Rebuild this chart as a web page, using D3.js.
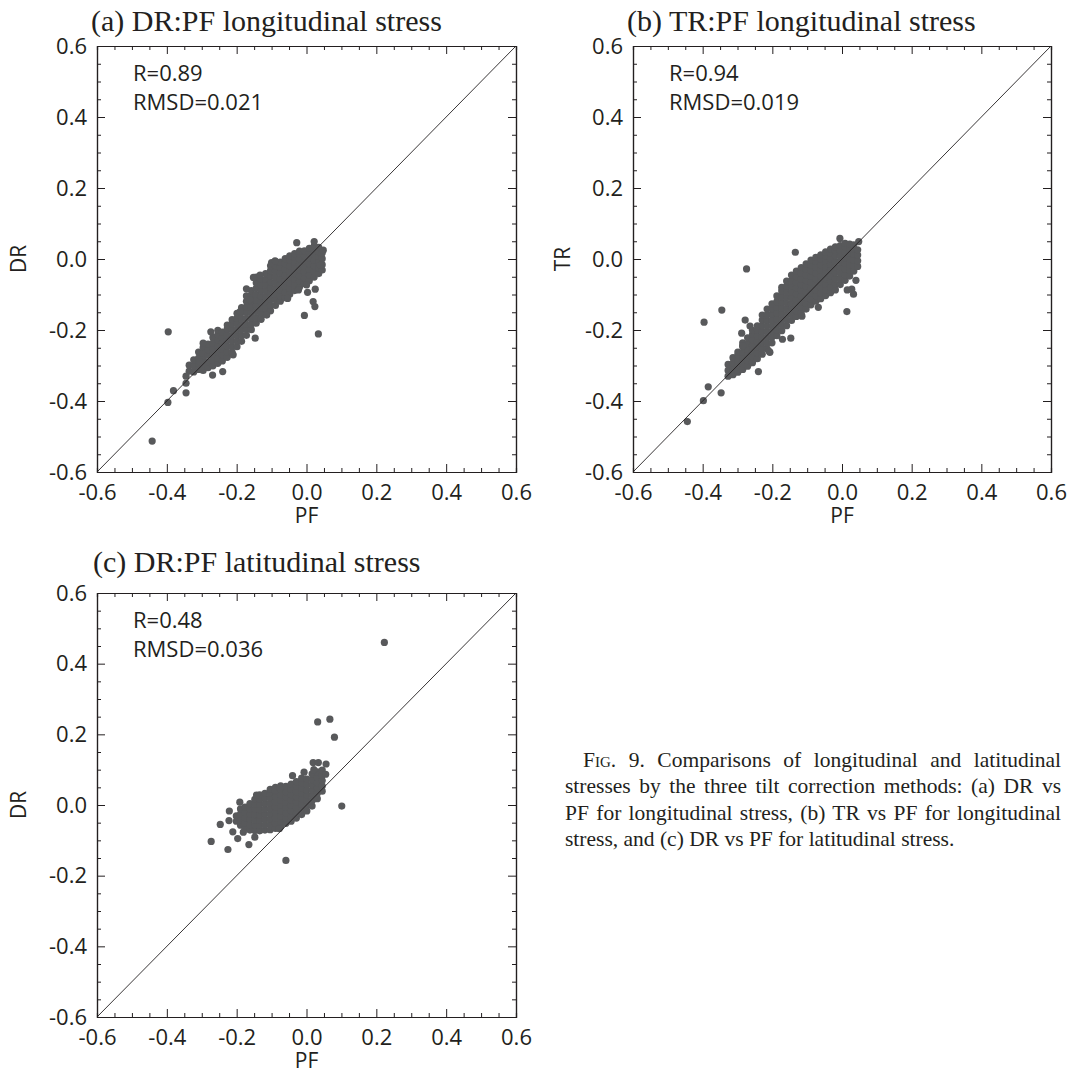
<!DOCTYPE html>
<html>
<head>
<meta charset="utf-8">
<script src="https://cdn.jsdelivr.net/npm/d3@7/dist/d3.min.js"></script>
<style>
  body { margin: 0; background: #fff; }
</style>
</head>
<body>
<script>
// ---- data ----
var majorTicks = [-0.6, -0.4, -0.2, 0.0, 0.2, 0.4, 0.6]
var minorTicks = [-0.55, -0.5, -0.45, -0.35, -0.3, -0.25, -0.15, -0.1, -0.05,
  0.05, 0.1, 0.15, 0.25, 0.3, 0.35, 0.45, 0.5, 0.55]

// dense cloud, given as [PF, [values...]] columns
var colsA = [
  [-0.336, [-0.316, -0.299]],
  [-0.323, [-0.318, -0.301, -0.284]],
  [-0.309, [-0.311, -0.293, -0.279, -0.262]],
  [-0.296, [-0.314, -0.297, -0.281, -0.266, -0.249]],
  [-0.282, [-0.306, -0.290, -0.271, -0.255, -0.240]],
  [-0.268, [-0.301, -0.285, -0.268, -0.253, -0.237, -0.221]],
  [-0.254, [-0.294, -0.279, -0.261, -0.246, -0.229, -0.213, -0.201]],
  [-0.241, [-0.287, -0.270, -0.254, -0.237, -0.221, -0.206]],
  [-0.227, [-0.277, -0.262, -0.245, -0.229, -0.214, -0.197, -0.186]],
  [-0.213, [-0.263, -0.248, -0.231, -0.216, -0.199, -0.183, -0.171]],
  [-0.199, [-0.247, -0.231, -0.215, -0.200, -0.183, -0.167, -0.153]],
  [-0.186, [-0.232, -0.216, -0.199, -0.184, -0.168, -0.151, -0.137]],
  [-0.172, [-0.215, -0.199, -0.184, -0.167, -0.151, -0.135, -0.119, -0.104]],
  [-0.158, [-0.199, -0.183, -0.167, -0.152, -0.135, -0.119, -0.103, -0.089]],
  [-0.144, [-0.181, -0.165, -0.148, -0.132, -0.116, -0.100, -0.083, -0.067, -0.051]],
  [-0.130, [-0.170, -0.153, -0.137, -0.121, -0.105, -0.089, -0.073, -0.057]],
  [-0.117, [-0.155, -0.138, -0.122, -0.106, -0.090, -0.073, -0.057, -0.041]],
  [-0.103, [-0.146, -0.130, -0.113, -0.097, -0.081, -0.065, -0.049, -0.033, -0.019]],
  [-0.089, [-0.131, -0.115, -0.099, -0.083, -0.067, -0.051, -0.035, -0.020, -0.007]],
  [-0.075, [-0.119, -0.103, -0.087, -0.071, -0.055, -0.039, -0.023, -0.009]],
  [-0.061, [-0.109, -0.093, -0.077, -0.061, -0.045, -0.029, -0.013, 0.001]],
  [-0.048, [-0.099, -0.083, -0.067, -0.051, -0.035, -0.019, -0.003, 0.009]],
  [-0.034, [-0.089, -0.073, -0.057, -0.041, -0.025, -0.009, 0.005, 0.015]],
  [-0.020, [-0.079, -0.063, -0.047, -0.031, -0.015, 0.001, 0.015, 0.022]],
  [-0.006, [-0.069, -0.053, -0.037, -0.021, -0.005, 0.009, 0.023]],
  [0.008, [-0.061, -0.045, -0.029, -0.013, 0.003, 0.017, 0.030]],
  [0.022, [-0.051, -0.035, -0.019, -0.003, 0.013, 0.027, 0.036]],
  [0.035, [-0.041, -0.025, -0.009, 0.007, 0.021, 0.033]],
  [0.045, [-0.031, -0.016, 0.001, 0.017]]
]
var outA = [
  [-0.442, -0.513], [-0.397, -0.404], [-0.381, -0.371], [-0.396, -0.205],
  [-0.345, -0.377], [-0.345, -0.350], [-0.345, -0.330], [-0.269, -0.327],
  [-0.240, -0.317], [-0.274, -0.205], [-0.296, -0.237], [-0.305, -0.289],
  [-0.210, -0.270], [-0.147, -0.223], [-0.190, -0.148], [-0.162, -0.115],
  [-0.114, -0.158], [-0.172, -0.084], [-0.152, -0.052], [-0.133, -0.045],
  [-0.100, -0.010], [-0.090, -0.005], [-0.054, -0.111], [-0.023, -0.087],
  [0.003, -0.094], [0.000, -0.073], [-0.006, -0.159], [0.034, -0.211],
  [0.019, -0.120], [0.024, -0.134], [0.025, -0.085], [-0.028, 0.046],
  [0.022, 0.049], [0.048, 0.025], [0.039, -0.017]
]

var colsB = [
  [-0.327, [-0.330, -0.314, -0.297]],
  [-0.313, [-0.326, -0.310, -0.293, -0.278]],
  [-0.299, [-0.319, -0.303, -0.287, -0.271, -0.262]],
  [-0.285, [-0.311, -0.295, -0.279, -0.263, -0.247, -0.236]],
  [-0.271, [-0.302, -0.286, -0.270, -0.254, -0.238, -0.222]],
  [-0.257, [-0.292, -0.276, -0.260, -0.244, -0.228, -0.212, -0.201]],
  [-0.243, [-0.281, -0.265, -0.249, -0.233, -0.217, -0.201, -0.188]],
  [-0.229, [-0.268, -0.252, -0.236, -0.220, -0.204, -0.188, -0.172, -0.158]],
  [-0.215, [-0.253, -0.237, -0.221, -0.205, -0.189, -0.173, -0.157, -0.141]],
  [-0.201, [-0.236, -0.220, -0.204, -0.188, -0.172, -0.156, -0.140, -0.126]],
  [-0.187, [-0.216, -0.200, -0.184, -0.168, -0.152, -0.136, -0.120, -0.104]],
  [-0.173, [-0.202, -0.186, -0.170, -0.154, -0.138, -0.122, -0.106, -0.090, -0.080]],
  [-0.159, [-0.188, -0.172, -0.156, -0.140, -0.124, -0.108, -0.092, -0.076, -0.062]],
  [-0.145, [-0.173, -0.157, -0.141, -0.125, -0.109, -0.093, -0.077, -0.061, -0.045]],
  [-0.131, [-0.162, -0.146, -0.130, -0.114, -0.098, -0.082, -0.066, -0.050, -0.034]],
  [-0.117, [-0.152, -0.136, -0.120, -0.104, -0.088, -0.072, -0.056, -0.040, -0.024]],
  [-0.103, [-0.141, -0.125, -0.109, -0.093, -0.077, -0.061, -0.045, -0.029, -0.014]],
  [-0.089, [-0.129, -0.113, -0.097, -0.081, -0.065, -0.049, -0.033, -0.017, -0.003]],
  [-0.075, [-0.119, -0.103, -0.087, -0.071, -0.055, -0.039, -0.023, -0.007, 0.005]],
  [-0.061, [-0.112, -0.096, -0.080, -0.064, -0.048, -0.032, -0.016, 0.000, 0.012]],
  [-0.047, [-0.103, -0.087, -0.071, -0.055, -0.039, -0.023, -0.007, 0.009, 0.020]],
  [-0.033, [-0.095, -0.079, -0.063, -0.047, -0.031, -0.015, 0.001, 0.017, 0.028]],
  [-0.019, [-0.087, -0.071, -0.055, -0.039, -0.023, -0.007, 0.009, 0.024, 0.034]],
  [-0.005, [-0.072, -0.056, -0.040, -0.024, -0.008, 0.008, 0.024, 0.038]],
  [0.009, [-0.060, -0.044, -0.028, -0.012, 0.004, 0.020, 0.034, 0.044]],
  [0.022, [-0.048, -0.032, -0.016, 0.000, 0.016, 0.030, 0.042]],
  [0.034, [-0.034, -0.018, -0.002, 0.014, 0.028, 0.040]],
  [0.045, [-0.021, -0.005, 0.011, 0.026]]
]
var outB = [
  [-0.444, -0.458], [-0.398, -0.399], [-0.384, -0.360], [-0.347, -0.377],
  [-0.396, -0.178], [-0.345, -0.144], [-0.274, -0.028], [-0.134, 0.019],
  [-0.006, 0.058], [0.048, 0.049], [0.014, -0.148], [0.033, -0.099],
  [0.015, -0.087], [-0.068, -0.136], [-0.115, -0.161], [-0.147, -0.223],
  [-0.171, -0.226], [-0.207, -0.263], [-0.240, -0.317], [-0.278, -0.172],
  [-0.264, -0.189], [-0.288, -0.209], [-0.285, -0.244], [-0.209, -0.260],
  [0.028, -0.085], [0.040, -0.060]
]

var colsC = [
  [-0.201, [-0.046, -0.031]],
  [-0.189, [-0.057, -0.042, -0.026, -0.011]],
  [-0.176, [-0.066, -0.051, -0.036, -0.021, -0.006]],
  [-0.162, [-0.071, -0.056, -0.041, -0.026, -0.011, 0.004]],
  [-0.148, [-0.072, -0.057, -0.042, -0.027, -0.012, 0.003, 0.016]],
  [-0.134, [-0.073, -0.058, -0.043, -0.028, -0.013, 0.002, 0.017, 0.029]],
  [-0.119, [-0.071, -0.056, -0.041, -0.026, -0.011, 0.004, 0.019, 0.033]],
  [-0.104, [-0.070, -0.055, -0.040, -0.025, -0.010, 0.005, 0.020, 0.034, 0.044]],
  [-0.089, [-0.066, -0.051, -0.036, -0.021, -0.006, 0.009, 0.024, 0.039, 0.050]],
  [-0.074, [-0.061, -0.046, -0.031, -0.016, -0.001, 0.014, 0.029, 0.044, 0.054]],
  [-0.059, [-0.052, -0.037, -0.022, -0.007, 0.008, 0.023, 0.038, 0.053]],
  [-0.044, [-0.046, -0.031, -0.016, -0.001, 0.014, 0.029, 0.044, 0.059]],
  [-0.029, [-0.037, -0.022, -0.007, 0.008, 0.023, 0.038, 0.053, 0.066]],
  [-0.014, [-0.027, -0.012, 0.003, 0.018, 0.033, 0.048, 0.063, 0.076]],
  [0.001, [-0.017, -0.002, 0.013, 0.028, 0.043, 0.058, 0.073]],
  [0.016, [-0.003, 0.012, 0.027, 0.042, 0.057, 0.072, 0.088]],
  [0.031, [0.018, 0.033, 0.048, 0.063, 0.078, 0.094]],
  [0.045, [0.039, 0.054, 0.069, 0.084, 0.099]]
]
var outC = [
  [0.223, 0.460], [0.032, 0.235], [0.067, 0.243], [0.080, 0.192],
  [0.101, -0.003], [-0.059, -0.157], [-0.273, -0.103], [-0.225, -0.126],
  [-0.165, -0.112], [-0.247, -0.055], [-0.221, -0.017], [-0.222, -0.044],
  [-0.211, -0.076], [-0.197, -0.095], [-0.191, 0.008], [-0.143, 0.028],
  [-0.148, -0.091], [-0.181, -0.077], [-0.040, 0.083], [-0.007, 0.093],
  [-0.078, -0.067], [0.019, 0.120], [0.034, 0.120], [0.056, 0.116],
  [0.021, 0.100], [0.055, 0.087], [-0.090, 0.042], [-0.076, 0.047]
]

var captionLines = [
  'Comparisons of longitudinal and latitudinal',
  'stresses by the three tilt correction methods: (a) DR vs',
  'PF for longitudinal stress, (b) TR vs PF for longitudinal',
  'stress, and (c) DR vs PF for latitudinal stress.'
]

// ---- layout ----
var panels = [
  {title: '(a) DR:PF longitudinal stress', ylab: 'DR', r: 'R=0.89', rmsd: 'RMSD=0.021',
   cols: colsA, extra: outA, left: 97, top: 46, w: 419, h: 426, tx: 91, ty: 31, yl: 78},
  {title: '(b) TR:PF longitudinal stress', ylab: 'TR', r: 'R=0.94', rmsd: 'RMSD=0.019',
   cols: colsB, extra: outB, left: 633, top: 46, w: 418, h: 426, tx: 627, ty: 31, yl: 70},
  {title: '(c) DR:PF latitudinal stress', ylab: 'DR', r: 'R=0.48', rmsd: 'RMSD=0.036',
   cols: colsC, extra: outC, left: 97, top: 593, w: 419, h: 424, tx: 93, ty: 572, yl: 78}
]

var ink = '#231f20'
var sans = "'Open Sans', sans-serif"
var serif = "'Liberation Serif', 'Times New Roman', serif"
var fmt = function(d) { return d.toFixed(1) }

var body = d3.select('body')
var svg = body.append('svg')
  .attr('width', 1067)
  .attr('height', 1074)

panels.forEach(function(p) {
  var x = d3.scaleLinear().domain([-0.6, 0.6]).range([p.left, p.left + p.w])
  var y = d3.scaleLinear().domain([-0.6, 0.6]).range([p.top + p.h, p.top])
  var g = svg.append('g')

  //points
  var pts = p.cols.flatMap(function(c) {
    return c[1].map(function(v) { return [c[0], v] })
  }).concat(p.extra)
  g.append('g').selectAll('circle')
    .data(pts)
    .join('circle')
    .attr('cx', function(d) { return x(d[0]) })
    .attr('cy', function(d) { return y(d[1]) })
    .attr('r', 3.6)
    .attr('fill', '#58595b')

  //1:1 line
  g.append('line')
    .attr('x1', x(-0.6)).attr('y1', y(-0.6))
    .attr('x2', x(0.6)).attr('y2', y(0.6))
    .attr('stroke', ink)
    .attr('stroke-width', 0.9)

  //axes, ticks pointing inward
  g.append('g')
    .attr('transform', 'translate(0,' + (p.top + p.h) + ')')
    .call(d3.axisBottom(x).tickValues(majorTicks).tickFormat(fmt)
      .tickSizeInner(-8).tickSizeOuter(0).tickPadding(12))
  g.append('g')
    .attr('transform', 'translate(' + p.left + ',0)')
    .call(d3.axisLeft(y).tickValues(majorTicks).tickFormat(fmt)
      .tickSizeInner(-8).tickSizeOuter(0).tickPadding(10))
  g.append('g')
    .attr('transform', 'translate(0,' + p.top + ')')
    .call(d3.axisTop(x).tickValues(majorTicks).tickFormat('')
      .tickSizeInner(-8).tickSizeOuter(0))
  g.append('g')
    .attr('transform', 'translate(' + (p.left + p.w) + ',0)')
    .call(d3.axisRight(y).tickValues(majorTicks).tickFormat('')
      .tickSizeInner(-8).tickSizeOuter(0))

  // minor ticks
  g.append('g')
    .attr('transform', 'translate(0,' + (p.top + p.h) + ')')
    .call(d3.axisBottom(x).tickValues(minorTicks).tickFormat('').tickSize(-4))
  g.append('g')
    .attr('transform', 'translate(0,' + p.top + ')')
    .call(d3.axisTop(x).tickValues(minorTicks).tickFormat('').tickSize(-4))
  g.append('g')
    .attr('transform', 'translate(' + p.left + ',0)')
    .call(d3.axisLeft(y).tickValues(minorTicks).tickFormat('').tickSize(-4))
  g.append('g')
    .attr('transform', 'translate(' + (p.left + p.w) + ',0)')
    .call(d3.axisRight(y).tickValues(minorTicks).tickFormat('').tickSize(-4))

  g.selectAll('.domain').attr('stroke', ink).attr('stroke-width', 1.2)
  g.selectAll('.tick line').attr('stroke', ink).attr('stroke-width', 1)
  g.selectAll('.tick text')
    .attr('fill', ink)
    .style('font-family', sans)
    .style('font-size', '22px')

  //axis titles
  g.append('text')
    .attr('x', p.left + p.w / 2)
    .attr('y', p.top + p.h + 51)
    .attr('text-anchor', 'middle')
    .attr('fill', ink)
    .style('font-family', sans)
    .style('font-size', '21px')
    .text('PF')
  g.append('text')
    .attr('transform', 'translate(' + (p.left - p.yl) + ',' + (p.top + p.h / 2) + ') rotate(-90)')
    .attr('text-anchor', 'middle')
    .attr('dy', '0.35em')
    .attr('fill', ink)
    .style('font-family', sans)
    .style('font-size', '21px')
    .text(p.ylab)

  //stats
  g.append('text')
    .attr('x', p.left + 36).attr('y', p.top + 35)
    .attr('fill', ink)
    .style('font-family', sans).style('font-size', '22px')
    .text(p.r)
  g.append('text')
    .attr('x', p.left + 36).attr('y', p.top + 64)
    .attr('fill', ink)
    .style('font-family', sans).style('font-size', '22px')
    .text(p.rmsd)

  //panel title
  g.append('text')
    .attr('x', p.tx).attr('y', p.ty)
    .attr('fill', ink)
    .style('font-family', serif).style('font-size', '30px')
    .text(p.title)
})

// caption, justified by stretching the word gaps
var capLeft = 565, capRight = 1061
var cap = svg.append('g')
  .style('font-family', serif)
  .style('font-size', '21.5px')
  .attr('fill', ink)

captionLines.forEach(function(line, i) {
  var x0 = i === 0 ? 583 : capLeft
  var t = cap.append('text')
    .attr('x', x0)
    .attr('y', 767 + i * 26.3)
  if (i === 0) {
    t.append('tspan').style('font-variant', 'small-caps').text('Fig. 9. ')
  }
  t.append('tspan').text(line)
  if (i < captionLines.length - 1) {
    var natural = t.node().getComputedTextLength()
    var gaps = (t.text().match(/ /g) || []).length
    t.style('word-spacing', ((capRight - x0 - natural) / gaps) + 'px')
  }
})
</script>
</body>
</html>
